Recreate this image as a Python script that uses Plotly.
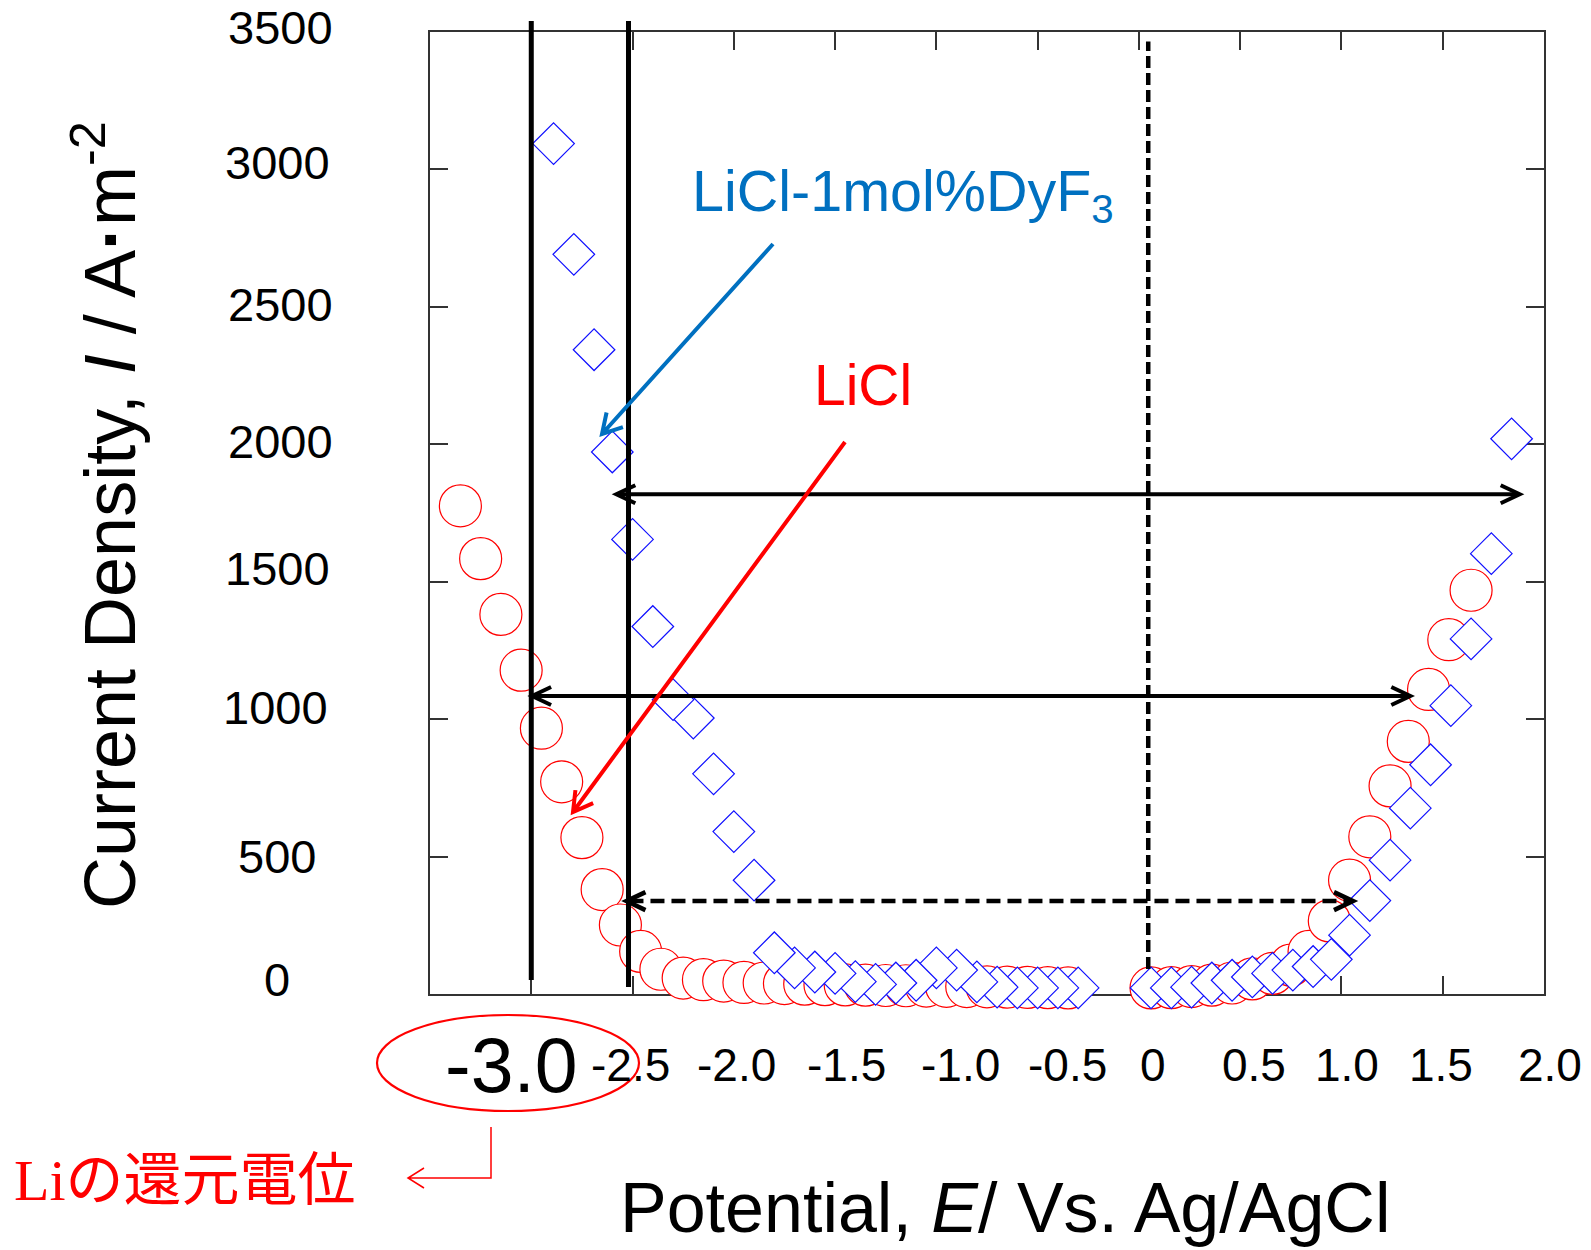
import math
import plotly.graph_objects as go

# ---------------- data ----------------
licl_E = [-3.35, -3.25, -3.15, -3.05, -2.95, -2.85, -2.75, -2.65, -2.56, -2.46,
          -2.36, -2.25, -2.15, -2.05, -1.95, -1.85, -1.75, -1.65, -1.55, -1.45,
          -1.35, -1.25, -1.15, -1.05, -0.95, -0.85, -0.75, -0.65, -0.55, -0.45, -0.35,
          0.06, 0.16, 0.26, 0.36, 0.46, 0.56, 0.66, 0.75, 0.84, 0.94,
          1.04, 1.14, 1.24, 1.33, 1.43, 1.53, 1.64]
licl_I = [1776, 1584, 1381, 1178, 967, 772, 569, 380, 251, 155,
          90, 58, 52, 47, 42, 40, 38, 36, 34, 33,
          32, 31, 30, 29, 28, 27, 26, 25, 24, 23, 22,
          22, 23, 27, 32, 40, 55, 75, 105, 155, 266,
          414, 572, 757, 919, 1108, 1289, 1469]

dyf3_E = [-0.30, -0.40, -0.50, -0.60, -0.70, -0.80, -0.90, -1.00, -1.10, -1.20,
          -1.30, -1.40, -1.50, -1.60, -1.70, -1.80, -1.90, -2.00, -2.10, -2.20,
          -2.30, -2.40, -2.50, -2.60, -2.69, -2.79, -2.89,
          0.06, 0.16, 0.26, 0.36, 0.46, 0.56, 0.66, 0.76, 0.86, 0.95,
          1.04, 1.14, 1.24, 1.34, 1.44, 1.54, 1.64, 1.74, 1.84]
dyf3_I = [22, 22, 22, 22, 25, 44, 87, 95, 50, 40,
          35, 45, 75, 80, 95, 150, 414, 591, 801, 1004,
          1071, 1337, 1654, 1972, 2344, 2691, 3094,
          22, 22, 25, 40, 50, 62, 75, 87, 100, 126,
          214, 340, 487, 676, 834, 1049, 1292, 1602, 2020]

x_tick_vals = [-3.0, -2.5, -2.0, -1.5, -1.0, -0.5, 0.0, 0.5, 1.0, 1.5, 2.0]
x_tick_text = ["-3.0", "-2.5", "-2.0", "-1.5", "-1.0", "-0.5", "0", "0.5", "1.0", "1.5", "2.0"]
x_tick_shift = [-20, -2, 3, 11, 24, 30, 14, 14, 6, -2, 6]
x_tick_size = [77, 46, 46, 46, 46, 46, 46, 46, 46, 46, 46]

y_tick_vals = [0, 500, 1000, 1500, 2000, 2500, 3000, 3500]
y_tick_text = ["0", "500", "1000", "1500", "2000", "2500", "3000", "3500"]
y_label_right_px = [292, 318, 330, 332, 335, 335, 332, 335]
y_label_shift = [15, 0, 12, 13, 3, 2, 7, 5]

# potential window markers (E values) and arrows (E start, E end, I level)
li_line_E = [-3.0, -2.52]
zero_line_E = 0.046
win_arrows = [(-2.58, 1.88, 1818, "solid"),
              (-2.996, 1.34, 1084, "solid"),
              (-2.53, 1.057, 338, "dash")]

# ---------------- layout geometry ----------------
W, H = 1591, 1250
ML, MR, MT, MB = 430, 47, 32, 256
PW = W - ML - MR
PH = H - MT - MB
XMIN, XMAX = -3.5, 2.0
YMIN, YMAX = 0, 3500
KX = PW / (XMAX - XMIN)
KY = PH / (YMAX - YMIN)
FONT = "Arial, Liberation Sans, sans-serif"


def pp(x, y):
    """pixel -> paper"""
    return (x - ML) / PW, (H - MB - y) / PH


fig = go.Figure()
fig.add_trace(go.Scatter(
    x=licl_E, y=licl_I, mode="markers", name="LiCl", cliponaxis=False,
    marker=dict(symbol="circle", size=42, color="white",
                line=dict(color="#FF0000", width=1.2))))
fig.add_trace(go.Scatter(
    x=dyf3_E, y=dyf3_I, mode="markers", name="LiCl-1mol%DyF3", cliponaxis=False,
    marker=dict(symbol="diamond", size=32, color="white",
                line=dict(color="#1010FF", width=1.2))))

shapes = []
# vertical solid lines (extend slightly above the frame)
for e, bottom_px in zip(li_line_E, [980, 987]):
    xp = (e - XMIN) / (XMAX - XMIN)
    shapes.append(dict(type="line", xref="paper", yref="paper", x0=xp, x1=xp,
                       y0=pp(0, bottom_px)[1], y1=pp(0, 21)[1],
                       line=dict(color="black", width=5)))
# vertical dashed line at ~0 V
shapes.append(dict(type="line", xref="x", yref="y", x0=zero_line_E, x1=zero_line_E,
                   y0=91, y1=3465, line=dict(color="black", width=4.5, dash="12px,5px")))


def chevron_data(x, y, d, w):
    ax = 19 / KX
    ay = 9 / KY
    return dict(type="path", xref="x", yref="y",
                path=f"M {x - d * ax},{y + ay} L {x},{y} L {x - d * ax},{y - ay}",
                line=dict(color="black", width=w))


for e0, e1, lev, style in win_arrows:
    w = 4.5 if style == "dash" else 4
    shapes.append(dict(type="line", xref="x", yref="y", x0=e0 + 3 / KX, x1=e1 - 3 / KX,
                       y0=lev, y1=lev,
                       line=dict(color="black", width=w,
                                 dash="14px,7px" if style == "dash" else "solid")))
    shapes.append(chevron_data(e0, lev, -1, w))
    shapes.append(chevron_data(e1, lev, 1, w))


def angled_arrow(x0, y0, x1, y1, color, width, head=22, ang=30):
    dx, dy = x1 - x0, y1 - y0
    L = math.hypot(dx, dy)
    vx, vy = -dx / L, -dy / L
    arms = []
    for s in (1, -1):
        a = math.radians(ang * s)
        rx = vx * math.cos(a) - vy * math.sin(a)
        ry = vx * math.sin(a) + vy * math.cos(a)
        arms.append((x1 + head * rx, y1 + head * ry))
    P = [pp(x0, y0), pp(x1, y1), pp(*arms[0]), pp(*arms[1])]
    path = (f"M {P[0][0]},{P[0][1]} L {P[1][0]},{P[1][1]} "
            f"M {P[2][0]},{P[2][1]} L {P[1][0]},{P[1][1]} L {P[3][0]},{P[3][1]}")
    return dict(type="path", xref="paper", yref="paper", path=path,
                line=dict(color=color, width=width))


shapes.append(angled_arrow(773, 244, 602, 434, "#0070C0", 4))
shapes.append(angled_arrow(845, 442, 573, 812, "#FF0000", 4))

# red ellipse around -3.0
e0 = pp(377, 1111)
e1 = pp(639, 1015)
shapes.append(dict(type="circle", xref="paper", yref="paper",
                   x0=e0[0], y0=e0[1], x1=e1[0], y1=e1[1],
                   line=dict(color="#FF0000", width=2.2)))
# red elbow arrow
a = pp(491, 1127); b = pp(491, 1178); c = pp(408, 1178)
h1 = pp(424, 1168); h2 = pp(424, 1188)
shapes.append(dict(type="path", xref="paper", yref="paper",
                   path=(f"M {a[0]},{a[1]} L {b[0]},{b[1]} L {c[0]},{c[1]} "
                         f"M {h1[0]},{h1[1]} L {c[0]},{c[1]} L {h2[0]},{h2[1]}"),
                   line=dict(color="#FF0000", width=1.5)))

annotations = []
for v, t, s, fs in zip(x_tick_vals, x_tick_text, x_tick_shift, x_tick_size):
    annotations.append(dict(x=v, y=pp(0, 1065)[1], xref="x", yref="paper", text=t,
                            showarrow=False, xshift=s, xanchor="center", yanchor="middle",
                            font=dict(size=fs, color="black", family=FONT)))
for v, t, rpx, s in zip(y_tick_vals, y_tick_text, y_label_right_px, y_label_shift):
    annotations.append(dict(x=pp(rpx, 0)[0], y=v, xref="paper", yref="y", text=t,
                            showarrow=False, yshift=s, xanchor="right", yanchor="middle",
                            font=dict(size=47, color="black", family=FONT)))

tx, ty = pp(104, 515)
annotations.append(dict(x=tx, y=ty, xref="paper", yref="paper", textangle=-90,
                        text="Current Density, <i>I</i> / A<b>·</b>m<sup>-2</sup>",
                        showarrow=False, xanchor="center", yanchor="middle",
                        font=dict(size=72, color="black", family=FONT)))
tx, ty = pp(1005, 1208)
annotations.append(dict(x=tx, y=ty, xref="paper", yref="paper",
                        text="Potential, <i>E</i>/ Vs. Ag/AgCl",
                        showarrow=False, xanchor="center", yanchor="middle",
                        font=dict(size=70, color="black", family=FONT)))
tx, ty = pp(690, 195)
annotations.append(dict(x=tx, y=ty, xref="paper", yref="paper",
                        text="LiCl-1mol%DyF<sub>3</sub>",
                        showarrow=False, xanchor="left", yanchor="middle",
                        font=dict(size=57.5, color="#0070C0", family=FONT)))
tx, ty = pp(863, 385)
annotations.append(dict(x=tx, y=ty, xref="paper", yref="paper", text="LiCl",
                        showarrow=False, xanchor="center", yanchor="middle",
                        font=dict(size=57, color="#FF0000", family=FONT)))
tx, ty = pp(12, 1180)
annotations.append(dict(x=tx, y=ty, xref="paper", yref="paper", text="Liの還元電位",
                        showarrow=False, xanchor="left", yanchor="middle",
                        font=dict(size=58, color="#FF0000",
                                  family="Liberation Serif, Noto Sans CJK JP, serif")))

axis_common = dict(showline=True, linecolor="#333333", linewidth=1.5, mirror="ticks",
                   ticks="inside", ticklen=18, tickwidth=1.5, tickcolor="#333333",
                   showgrid=False, zeroline=False, layer="below traces",
                   showticklabels=False, tickmode="array")

fig.update_layout(
    width=W, height=H,
    margin=dict(l=ML, r=MR, t=MT, b=MB, pad=0),
    paper_bgcolor="white", plot_bgcolor="white",
    showlegend=False,
    font=dict(family=FONT, color="black"),
    xaxis=dict(range=[XMIN, XMAX],
               tickvals=[-3.5, -3.0, -2.5, -2.0, -1.5, -1.0, -0.5, 0, 0.5, 1.0, 1.5, 2.0],
               **axis_common),
    yaxis=dict(range=[YMIN, YMAX], tickvals=y_tick_vals, **axis_common),
    shapes=shapes,
    annotations=annotations,
)

fig.write_html("out.html")
